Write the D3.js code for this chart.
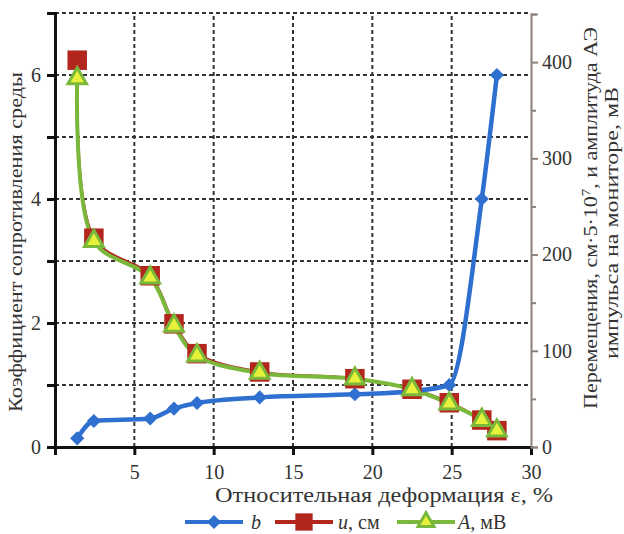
<!DOCTYPE html>
<html><head><meta charset="utf-8">
<script src="https://cdn.jsdelivr.net/npm/d3@7"></script>
<style>body{margin:0;background:#fff}svg{display:block}text{font-family:"Liberation Serif","Times New Roman",serif;fill:#333}</style>
</head><body>
<svg id="c" width="624" height="534"></svg>
<script>
// data
const strain = [1.4, 2.45, 6.0, 7.5, 8.95, 12.9, 18.9, 22.5, 24.85, 26.9, 27.85];
const bValues = [0.14, 0.42, 0.46, 0.62, 0.71, 0.8, 0.85, 0.9, 1.0, 4.0, 6.0];
const uValues = [402, 217, 178, 128, 97, 78, 71, 60, 46, 28, 17];
const aValues = [383, 214, 176, 126, 95, 77, 71, 60, 45, 28, 17];
const xTicks = [5, 10, 15, 20, 25, 30];
const leftTicks = [0, 1, 2, 3, 4, 5, 6, 7];
const rightTicks = [0, 100, 200, 300, 400];
const rightMinor = [50, 150, 250, 350, 450];

const svg = d3.select("#c");
const x = d3.scaleLinear().domain([0, 30]).range([55, 531]);
const yL = d3.scaleLinear().domain([0, 7]).range([447, 13]);
const yR = d3.scaleLinear().domain([0, 450]).range([447, 14]);

const blue = "#2f6fcf", red = "#b3261e", green = "#7ab83c", yellow = "#e6f23a";

// grid
const grid = svg.append("g").attr("stroke", "#333").attr("stroke-width", 2).attr("stroke-dasharray", "4,3");
grid.selectAll(".h").data(leftTicks.filter(d => d > 0)).join("line")
  .attr("x1", x(0)).attr("x2", x(30)).attr("y1", d => yL(d)).attr("y2", d => yL(d));
grid.selectAll(".v").data(xTicks.filter(d => d < 30)).join("line")
  .attr("x1", d => x(d)).attr("x2", d => x(d)).attr("y1", yL(0)).attr("y2", yL(7));

// axes
const gL = svg.append("g").attr("transform", `translate(${x(0)},0)`)
  .call(d3.axisLeft(yL).tickValues(leftTicks).tickSize(8).tickPadding(6).tickFormat(d => (d % 2 === 0 && d < 7) ? d : ""));
const gB = svg.append("g").attr("transform", `translate(0,${yL(0)})`)
  .call(d3.axisBottom(x).tickValues(xTicks).tickSize(8).tickPadding(6));
const gR = svg.append("g").attr("transform", `translate(${x(30)},0)`)
  .call(d3.axisRight(yR).tickValues(rightTicks).tickSize(7).tickPadding(4));
const gRm = svg.append("g").attr("transform", `translate(${x(30)},0)`)
  .call(d3.axisRight(yR).tickValues(rightMinor).tickSize(5).tickFormat(""));
[gL, gB].forEach(g => {
  g.select(".domain").attr("stroke", "#111").attr("stroke-width", 3);
  g.selectAll(".tick line").attr("stroke", "#111").attr("stroke-width", 3);
});
[gR, gRm].forEach(g => {
  g.select(".domain").attr("stroke", "#8c827c").attr("stroke-width", 2);
  g.selectAll(".tick line").attr("stroke", "#8c827c").attr("stroke-width", 2);
});
gRm.select(".domain").remove();
svg.selectAll(".tick text").attr("font-family", "Liberation Serif").attr("font-size", 20).attr("fill", "#333");
gB.selectAll(".tick text").attr("dy", "0.9em");

// lines
const pts = (vals) => strain.map((s, i) => [s, vals[i]]);
const lineL = d3.line().x(d => x(d[0])).y(d => yL(d[1])).curve(d3.curveMonotoneX);
const lineR = d3.line().x(d => x(d[0])).y(d => yR(d[1])).curve(d3.curveCatmullRom);

svg.append("path").attr("d", lineR(pts(uValues))).attr("fill", "none").attr("stroke", red).attr("stroke-width", 3);
svg.append("path").attr("d", lineR(pts(aValues))).attr("fill", "none").attr("stroke", green).attr("stroke-width", 4);
svg.append("path").attr("d", lineL(pts(bValues))).attr("fill", "none").attr("stroke", blue).attr("stroke-width", 4.5);

const diamond = d3.symbol(d3.symbolSquare, 100)();
const square = d3.symbol(d3.symbolSquare, 380)();
const tri = d3.symbol(d3.symbolTriangle, 150)();

svg.append("g").selectAll("path").data(pts(bValues)).join("path")
  .attr("d", diamond).attr("fill", blue)
  .attr("transform", d => `translate(${x(d[0])},${yL(d[1])}) rotate(45)`);
svg.append("g").selectAll("path").data(pts(uValues)).join("path")
  .attr("d", square).attr("fill", red)
  .attr("transform", d => `translate(${x(d[0])},${yR(d[1])})`);
svg.append("g").selectAll("path").data(pts(aValues)).join("path")
  .attr("d", tri).attr("fill", yellow).attr("stroke", green).attr("stroke-width", 3)
  .attr("transform", d => `translate(${x(d[0])},${yR(d[1])})`);

// titles
svg.append("text").attr("transform", "translate(22,242) rotate(-90)").attr("text-anchor", "middle")
  .attr("font-size", 19).attr("textLength", 340).attr("lengthAdjust", "spacingAndGlyphs")
  .text("Коэффициент сопротивления среды");
svg.append("text").attr("transform", "translate(597,218) rotate(-90)").attr("text-anchor", "middle")
  .attr("font-size", 19).attr("textLength", 382).attr("lengthAdjust", "spacingAndGlyphs")
  .html('Перемещения, см·5·10<tspan dy="-7" font-size="13">7</tspan><tspan dy="7">, и амплитуда АЭ</tspan>');
svg.append("text").attr("transform", "translate(618,223) rotate(-90)").attr("text-anchor", "middle")
  .attr("font-size", 19).attr("textLength", 272).attr("lengthAdjust", "spacingAndGlyphs")
  .text("импульса на мониторе, мВ");
svg.append("text").attr("x", 553).attr("y", 502).attr("text-anchor", "end")
  .attr("font-size", 20).attr("textLength", 338).attr("lengthAdjust", "spacingAndGlyphs")
  .text("Относительная деформация ε, %");

// legend
const ly = 522;
const leg = svg.append("g");
const items = [
  {x1: 185, x2: 243, c: blue, sym: "d"},
  {x1: 275, x2: 333, c: red, sym: "s"},
  {x1: 397, x2: 455, c: green, sym: "t"}
];
items.forEach(it => {
  leg.append("line").attr("x1", it.x1).attr("x2", it.x2).attr("y1", ly).attr("y2", ly)
    .attr("stroke", it.c).attr("stroke-width", 4);
  const cx = (it.x1 + it.x2) / 2;
  if (it.sym === "d") leg.append("path").attr("d", diamond).attr("fill", blue).attr("transform", `translate(${cx},${ly}) rotate(45)`);
  if (it.sym === "s") leg.append("path").attr("d", d3.symbol(d3.symbolSquare, 300)()).attr("fill", red).attr("transform", `translate(${cx},${ly})`);
  if (it.sym === "t") leg.append("path").attr("d", d3.symbol(d3.symbolTriangle, 110)()).attr("fill", yellow).attr("stroke", green).attr("stroke-width", 3).attr("transform", `translate(${cx},${ly})`);
});
leg.append("text").attr("x", 251).attr("y", 529).attr("font-size", 20).attr("font-style", "italic").text("b");
leg.append("text").attr("x", 338).attr("y", 529).attr("font-size", 20).html('<tspan font-style="italic">u</tspan>, см');
leg.append("text").attr("x", 458).attr("y", 529).attr("font-size", 20).html('<tspan font-style="italic">A</tspan>, мВ');
</script>
</body></html>
